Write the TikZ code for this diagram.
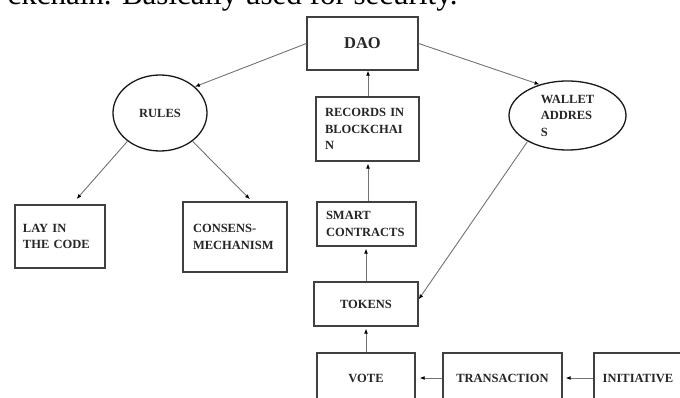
\documentclass[tikz,border=0pt]{standalone}
\usepackage{fontspec}
\setmainfont{Liberation Serif}
\usetikzlibrary{arrows.meta,shapes.geometric}
\begin{document}
\begin{tikzpicture}[x=1pt,y=-1pt,
  every node/.style={font=\bfseries\fontsize{12.5}{16.5}\selectfont, text=black!85},
  boxnode/.style={draw=black!75, line width=1.3pt, rectangle, inner sep=0pt},
  ovalnode/.style={draw=black!90, line width=1.3pt, ellipse, inner sep=0pt},
  link/.style={draw=black!55, line width=0.9pt, -{Latex[length=5pt,width=4pt,black]}}
]
\useasboundingbox (0,0) rectangle (680,398);
\clip (0,0) rectangle (680,398);
\fill[white] (0,0) rectangle (680,398);

\node[anchor=base east, font=\fontsize{31}{31}\selectfont, text=black] (head) at (461,5) {ckchain. Basically used for security.};

\node[boxnode, minimum width=111pt, minimum height=53pt, font=\bfseries\fontsize{16.5}{18}\selectfont] (dao) at (362.5,43.5) {DAO};
\node[ovalnode, minimum width=94pt, minimum height=76pt] (rules) at (160,113) {RULES};
\node[boxnode, minimum width=90pt, minimum height=63pt, text width=74pt, align=left, inner xsep=8pt] (lay) at (60,236.5) {LAY IN\\THE CODE};
\node[boxnode, minimum width=104pt, minimum height=70pt, text width=84pt, align=left, inner xsep=10pt] (consens) at (235,237) {CONSENS-\\MECHANISM};
\node[boxnode, minimum width=103pt, minimum height=64pt, text width=85pt, align=left, inner xsep=9pt] (records) at (367.5,129) {RECORDS IN\\BLOCKCHAI\\N};
\node[boxnode, minimum width=99pt, minimum height=44pt, text width=81pt, align=left, inner xsep=9pt] (smart) at (366.5,224) {SMART\\CONTRACTS};
\node[ovalnode, minimum width=117pt, minimum height=69pt, align=left] (wallet) at (567.5,115.5) {WALLET\\ADDRES\\S};
\node[boxnode, minimum width=104pt, minimum height=44pt] (tokens) at (366,304) {TOKENS};
\node[boxnode, minimum width=98pt, minimum height=50pt] (vote) at (366,378) {VOTE};
\node[boxnode, minimum width=119pt, minimum height=50pt] (trans) at (502.5,378) {TRANSACTION};
\node[boxnode, minimum width=88pt, minimum height=50pt] (init) at (638,378) {INITIATIVE};

\draw[link] (dao.west) -- (rules.37);
\draw[link] (dao.east) -- (wallet.132);
\draw[link] (rules.221) -- ([xshift=12pt]lay.north) [shorten >=7pt];
\draw[link, shorten >=3pt] (rules.-41) -- ([xshift=17pt]consens.north);
\draw[link] ([xshift=0.5pt]records.north) -- ([xshift=0.5pt]records.north |- dao.south);
\draw[link, shorten >=2pt] ([xshift=1.5pt]smart.north) -- ([xshift=1.5pt]smart.north |- records.south);
\draw[link, shorten >=2pt] (tokens.north) -- (tokens.north |- smart.south);
\draw[link, shorten >=2pt] (vote.north) -- (vote.north |- tokens.south);
\draw[link] (wallet.213) -- (tokens.5);
\draw[link, shorten >=4pt] (trans.west) -- (vote.east);
\draw[link, shorten >=3pt] (init.west) -- (trans.east);
\end{tikzpicture}
\end{document}
